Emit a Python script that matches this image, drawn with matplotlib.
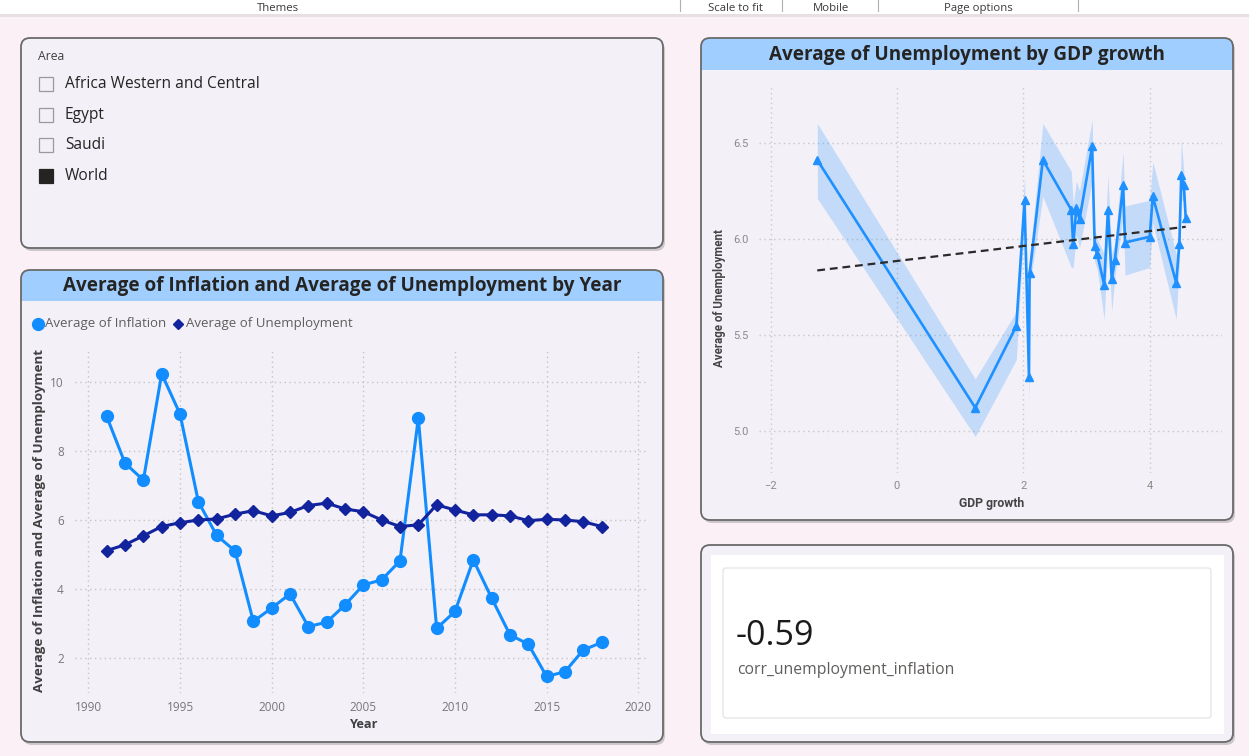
import numpy as np
import matplotlib
matplotlib.use("Agg")
import matplotlib.pyplot as plt
from matplotlib.patches import FancyBboxPatch, Rectangle

# ---------------- data ----------------
years = list(range(1991, 2019))
inflation = [9.01, 7.65, 7.16, 10.25, 9.08, 6.53, 5.55, 5.10, 3.05, 3.44,
             3.85, 2.90, 3.03, 3.53, 4.11, 4.26, 4.81, 8.96, 2.85, 3.34,
             4.84, 3.73, 2.66, 2.39, 1.45, 1.59, 2.22, 2.44]
unemployment = [5.11, 5.28, 5.54, 5.81, 5.92, 6.00, 6.03, 6.17, 6.27, 6.12,
                6.22, 6.42, 6.49, 6.32, 6.24, 6.00, 5.81, 5.86, 6.44, 6.29,
                6.15, 6.15, 6.12, 5.98, 6.02, 6.00, 5.95, 5.81]

gdp_growth = [-1.26, 1.24, 1.89, 2.02, 2.09, 2.10, 2.31, 2.76, 2.79, 2.84,
              2.89, 3.09, 3.13, 3.17, 3.28, 3.34, 3.40, 3.45, 3.58, 3.61,
              4.00, 4.05, 4.42, 4.47, 4.50, 4.54, 4.57]
unemp_by_gdp = [6.41, 5.12, 5.545, 6.20, 5.28, 5.82, 6.41, 6.15, 5.97, 6.16,
                6.10, 6.48, 5.96, 5.92, 5.76, 6.15, 5.79, 5.89, 6.28, 5.98,
                6.01, 6.22, 5.77, 5.97, 6.33, 6.28, 6.11]
band_low = [6.21, 4.97, 5.37, 6.10, 5.15, 5.75, 6.22, 5.85, 5.85, 6.02,
            5.95, 6.30, 5.88, 5.84, 5.58, 6.00, 5.62, 5.80, 6.12, 5.81,
            5.85, 6.08, 5.58, 5.88, 6.20, 6.20, 6.04]
band_high = [6.60, 5.27, 5.62, 6.32, 5.30, 5.90, 6.60, 6.35, 6.18, 6.30,
             6.25, 6.62, 6.05, 6.00, 5.92, 6.33, 5.92, 5.98, 6.45, 6.17,
             6.20, 6.40, 5.92, 6.05, 6.52, 6.35, 6.20]

areas = ["Africa Western and Central", "Egypt", "Saudi", "World"]
selected = [False, False, False, True]
corr_value = "-0.59"
corr_label = "corr_unemployment_inflation"
toolbar_items = ["Themes", "Scale to fit", "Mobile", "Page options"]

year_ticks = [1990, 1995, 2000, 2005, 2010, 2015, 2020]
left_yticks = [2, 4, 6, 8, 10]
gdp_ticks = [-2, 0, 2, 4]
unemp_ticks = [5.0, 5.5, 6.0, 6.5]

# ---------------- style ----------------
W, H = 1249, 756
PAGE = "#FBF0F5"
PANEL = "#F3F0F8"
BORDER = "#6A6A6A"
TITLEBAR = "#A0CFFF"
C_INF = "#118DFF"
C_UNE = "#12239E"
C_GDP = "#1E90FF"
PBI_FONT = ["Open Sans", "DejaVu Sans"]
PY_FONT = ["Roboto", "DejaVu Sans"]

fig = plt.figure(figsize=(W / 100, H / 100), dpi=100)
fig.patch.set_facecolor(PAGE)

bg = fig.add_axes([0, 0, 1, 1])
bg.set_xlim(0, W)
bg.set_ylim(H, 0)
bg.axis("off")


def panel(x0, y0, x1, y1, title=None, tb_h=32):
    # shadow
    bg.add_patch(FancyBboxPatch((x0 + 2, y0 + 3), x1 - x0, y1 - y0,
                                boxstyle="round,pad=0,rounding_size=9",
                                fc="#8A8A8A", ec="none", alpha=0.4, zorder=1))
    bg.add_patch(FancyBboxPatch((x0, y0), x1 - x0, y1 - y0,
                                boxstyle="round,pad=0,rounding_size=9",
                                fc=PANEL, ec="none", zorder=2))
    if title is not None:
        bg.add_patch(FancyBboxPatch((x0, y0), x1 - x0, tb_h,
                                    boxstyle="round,pad=0,rounding_size=9",
                                    fc=TITLEBAR, ec="none", zorder=3))
        bg.add_patch(Rectangle((x0, y0 + tb_h / 2), x1 - x0, tb_h / 2,
                               fc=TITLEBAR, ec="none", zorder=3))
        bg.text((x0 + x1) / 2, y0 + tb_h / 2 + 1, title, ha="center", va="center",
                fontsize=13.6, fontweight="bold", color="#252423",
                family=PBI_FONT, zorder=4)
    bg.add_patch(FancyBboxPatch((x0, y0), x1 - x0, y1 - y0,
                                boxstyle="round,pad=0,rounding_size=9",
                                fc="none", ec=BORDER, lw=1.3, zorder=5))


# ---- top toolbar strip ----
bg.add_patch(Rectangle((0, 0), W, 14, fc="white", ec="none", zorder=1))
bg.add_patch(Rectangle((0, 14), W, 3, fc="#E6E0E4", ec="none", zorder=1))
for tx, lbl in zip([278, 735, 831, 978], toolbar_items):
    bg.text(tx, 11, lbl, ha="center", va="baseline", fontsize=8.2,
            color="#3A3A3A", family=PBI_FONT, zorder=2)
for sx in [680, 782, 878, 1078]:
    bg.plot([sx, sx], [0, 11], color="#B0B0B0", lw=0.8, zorder=2)

# ---- panels ----
panel(21, 38, 663, 248)
panel(21, 270, 663, 742, "Average of Inflation and Average of Unemployment by Year", tb_h=31)
panel(701, 38, 1233, 520, "Average of Unemployment by GDP growth", tb_h=32)
panel(701, 545, 1233, 742)

# ---- slicer ----
bg.text(38, 57, "Area", ha="left", va="center", fontsize=8.8, color="#404040",
        family=PBI_FONT, zorder=6)
for i, (name, sel) in enumerate(zip(areas, selected)):
    yc = 84 + i * 30.7
    bg.add_patch(Rectangle((39, yc - 7), 14, 14, fc="#252423" if sel else "none",
                           ec="#252423" if sel else "#9A9A9A", lw=0.9, zorder=6))
    bg.text(65, yc, name, ha="left", va="center", fontsize=11.2, color="#252423",
            family=PBI_FONT, zorder=6)

# ---- left chart legend ----
bg.plot([38], [324], marker="o", ms=8.5, color=C_INF, zorder=6)
bg.text(45, 324, "Average of Inflation", ha="left", va="center", fontsize=9.5,
        color="#605E5C", family=PBI_FONT, zorder=6)
bg.plot([178], [324], marker="D", ms=5.5, color=C_UNE, zorder=6)
bg.text(186, 324, "Average of Unemployment", ha="left", va="center", fontsize=9.5,
        color="#605E5C", family=PBI_FONT, zorder=6)


def add_ax(x0, y0, x1, y1):
    a = fig.add_axes([x0 / W, 1 - y1 / H, (x1 - x0) / W, (y1 - y0) / H])
    a.set_facecolor("none")
    a.set_zorder(10)
    for s in a.spines.values():
        s.set_visible(False)
    a.tick_params(length=0)
    return a


# ---- left line chart ----
ax1 = add_ax(75, 348, 648, 693)
ax1.set_xlim(1989.27, 2020.53)
ax1.set_ylim(0.97, 11.0)
ax1.set_xticks(year_ticks)
ax1.set_yticks(left_yticks)
ax1.grid(True, color="#C4C4C4", linestyle=(0, (1, 2.5)), linewidth=1.0)
ax1.set_axisbelow(True)
ax1.plot(years, inflation, color=C_INF, lw=2.2, marker="o", ms=8.5, zorder=3)
ax1.plot(years, unemployment, color=C_UNE, lw=2.2, marker="D", ms=6, zorder=4)
for lab in ax1.get_xticklabels() + ax1.get_yticklabels():
    lab.set_fontsize(8.5)
    lab.set_color("#777777")
    lab.set_family(PBI_FONT)
ax1.tick_params(axis="x", pad=6)
ax1.tick_params(axis="y", pad=8)
bg.text(40, 520, "Average of Inflation and Average of Unemployment", rotation=90,
        ha="center", va="center", fontsize=9.6, fontweight="bold", color="#404040",
        family=PBI_FONT, zorder=6)
bg.text(363, 724, "Year", ha="center", va="center", fontsize=9.2, fontweight="bold",
        color="#404040", family=PBI_FONT, zorder=6)

# ---- right chart ----
ax2 = add_ax(758.5, 85, 1221.7, 473)
ax2.set_xlim(-2.19, 5.14)
ax2.set_ylim(4.78, 6.80)
ax2.set_xticks(gdp_ticks)
ax2.set_yticks(unemp_ticks)
ax2.set_yticklabels([f"{v:.1f}" for v in unemp_ticks])
ax2.grid(True, color="#C8C8C8", linestyle=(0, (1, 2.5)), linewidth=1.0)
ax2.set_axisbelow(True)
ax2.fill_between(gdp_growth, band_low, band_high, color=C_GDP, alpha=0.22,
                 lw=0, zorder=2)
ax2.plot(gdp_growth, unemp_by_gdp, color=C_GDP, lw=1.9, marker="^", ms=5.5, zorder=3)
slope, intercept = np.polyfit(gdp_growth, unemp_by_gdp, 1)
xr = np.array([min(gdp_growth), max(gdp_growth)])
ax2.plot(xr, intercept + slope * xr, color="#2A2A2A", lw=1.6, ls=(0, (3.5, 2.2)), zorder=4)
for lab in ax2.get_xticklabels() + ax2.get_yticklabels():
    lab.set_fontsize(8)
    lab.set_color("#8A8A8A")
    lab.set_family(PY_FONT)
ax2.tick_params(axis="x", pad=6)
ax2.tick_params(axis="y", pad=7)
bg.text(720, 298, "Average of Unemployment", rotation=90, ha="center", va="center",
        fontsize=8.3, fontweight="bold", color="#444444", family=PY_FONT, zorder=6)
bg.text(992, 503, "GDP growth", ha="center", va="center", fontsize=8.8,
        fontweight="bold", color="#444444", family=PY_FONT, zorder=6)

# ---- card ----
bg.add_patch(Rectangle((711, 555), 513, 179, fc="white", ec="none", zorder=6))
bg.add_patch(FancyBboxPatch((723, 568), 488, 150, boxstyle="round,pad=0,rounding_size=3",
                            fc="white", ec="#E4E4E4", lw=0.9, zorder=7))
bg.text(736, 636, corr_value, ha="left", va="center", fontsize=24.5, color="#1A1A1A",
        family=PBI_FONT, zorder=8)
bg.text(737, 670, corr_label, ha="left", va="center", fontsize=11.3, color="#605E5C",
        family=PBI_FONT, zorder=8)

fig.savefig("out.png", dpi=100, facecolor=PAGE)
